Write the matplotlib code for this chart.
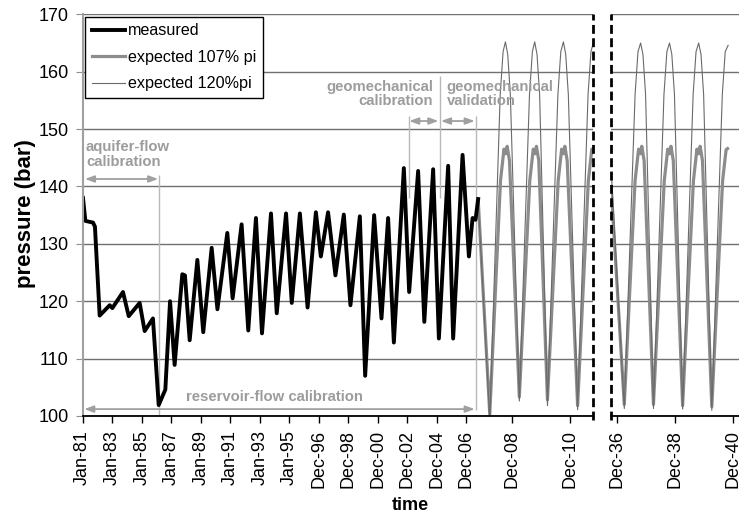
import numpy as np
import matplotlib.pyplot as plt

plt.rcParams['font.family'] = ['Liberation Sans', 'DejaVu Sans']

# measured reservoir pressure (decimal year, bar)
measured_t = [1981.02, 1981.18, 1981.70, 1981.83, 1982.15, 1982.83, 1983.01, 1983.73,
              1984.12, 1984.86, 1985.20, 1985.76, 1986.15, 1986.60, 1986.92, 1987.23,
              1987.75, 1987.93, 1988.25, 1988.77, 1989.17, 1989.74, 1990.13, 1990.80,
              1991.16, 1991.77, 1992.22, 1992.74, 1993.15, 1993.76, 1994.15, 1994.78,
              1995.16, 1995.69, 1996.19, 1996.73, 1997.06, 1997.55, 1998.05, 1998.62,
              1999.07, 1999.71, 2000.07, 2000.68, 2001.18, 2001.63, 2002.02, 2002.70,
              2003.06, 2003.67, 2004.09, 2004.69, 2005.08, 2005.71, 2006.05, 2006.69,
              2007.12, 2007.37, 2007.57, 2007.75]
measured_p = [138.0, 134.0, 133.7, 133.0, 117.5, 119.3, 118.8, 121.6,
              117.4, 119.7, 114.8, 117.0, 101.9, 104.6, 120.0, 108.9,
              124.7, 124.5, 113.2, 127.2, 114.6, 129.3, 118.6, 131.9,
              120.5, 133.4, 114.9, 134.5, 114.4, 135.3, 117.9, 135.3,
              119.7, 135.3, 118.9, 135.5, 127.8, 135.5, 124.5, 135.1,
              119.3, 134.8, 107.0, 135.0, 117.0, 134.5, 112.8, 143.2,
              121.6, 142.7, 116.4, 143.0, 113.5, 143.6, 113.5, 145.5,
              127.8, 134.5, 134.2, 137.8]

# expected pressure, filling up to 107% of initial pressure
exp107_t_a = [2007.75, 2008.15, 2008.52, 2008.64, 2008.70, 2008.75, 2008.83,
              2009.17, 2009.53, 2009.65, 2009.71, 2009.76, 2009.84,
              2010.14, 2010.51, 2010.63, 2010.69, 2010.74, 2010.82,
              2011.18, 2011.55, 2011.67, 2011.73, 2011.78, 2011.86]
exp107_p_a = [137.8, 100.3, 141.0, 146.5, 145.7, 147.0, 144.5,
              103.3, 141.0, 146.5, 145.7, 147.0, 144.5,
              102.8, 141.0, 146.5, 145.7, 147.0, 144.5,
              101.8, 141.0, 146.5, 145.7, 147.0, 144.5]
exp107_t_b = [2036.74, 2037.18, 2037.55, 2037.67, 2037.73, 2037.78, 2037.86,
              2038.18, 2038.55, 2038.67, 2038.73, 2038.78, 2038.86,
              2039.18, 2039.55, 2039.67, 2039.73, 2039.78, 2039.86,
              2040.18, 2040.55, 2040.67, 2040.72]
exp107_p_b = [139.0, 102.0, 141.0, 146.5, 145.7, 147.0, 144.5,
              102.0, 141.0, 146.5, 145.7, 147.0, 144.5,
              101.8, 141.0, 146.5, 145.7, 147.0, 144.5,
              101.6, 141.0, 146.4, 146.6]

# expected pressure, filling up to 120% of initial pressure
exp120_t_a = [2007.75, 2008.15, 2008.51, 2008.61, 2008.69, 2008.77, 2008.86,
              2009.17, 2009.52, 2009.62, 2009.70, 2009.78, 2009.87,
              2010.14, 2010.50, 2010.60, 2010.69, 2010.77, 2010.86,
              2011.18, 2011.54, 2011.64, 2011.72, 2011.80, 2011.89]
exp120_p_a = [137.8, 99.2, 156.0, 163.5, 165.2, 163.0, 156.0,
              102.6, 156.0, 163.5, 165.2, 163.0, 156.0,
              101.8, 156.0, 163.5, 165.2, 163.0, 156.0,
              101.1, 156.0, 163.5, 165.0, 163.0, 156.0]
exp120_t_b = [2036.74, 2037.18, 2037.55, 2037.65, 2037.74, 2037.82, 2037.91,
              2038.18, 2038.54, 2038.64, 2038.73, 2038.81, 2038.90,
              2039.18, 2039.54, 2039.64, 2039.73, 2039.81, 2039.90,
              2040.18, 2040.54, 2040.64, 2040.74]
exp120_p_b = [142.0, 101.3, 156.0, 163.5, 165.0, 163.0, 156.0,
              101.3, 156.0, 163.5, 165.0, 163.0, 156.0,
              101.2, 156.0, 163.5, 165.0, 163.0, 156.0,
              101.0, 156.0, 163.5, 164.6]

left_ticks = [1981.0, 1983.0, 1985.0, 1987.0, 1989.0, 1991.0, 1993.0, 1995.0,
              1996.92, 1998.92, 2000.92, 2002.92, 2004.92, 2006.92, 2008.92, 2010.92]
left_labels = ['Jan-81', 'Jan-83', 'Jan-85', 'Jan-87', 'Jan-89', 'Jan-91', 'Jan-93', 'Jan-95',
               'Dec-96', 'Dec-98', 'Dec-00', 'Dec-02', 'Dec-04', 'Dec-06', 'Dec-08', 'Dec-10']
right_ticks = [2036.92, 2038.92, 2040.92]
right_labels = ['Dec-36', 'Dec-38', 'Dec-40']

# category axis: history is squeezed, forecast gets twice the room per year
seg_year = [1900.0, 1981.0, 1995.0, 1996.92, 2007.75, 2011.72, 2100.0]
seg_pos = [-81.0, 0.0, 14.0, 16.0, 26.8, 34.6, 208.04]


def to_pos(t):
    return np.interp(t, seg_year, seg_pos)


def to_year(x):
    return np.interp(x, seg_pos, seg_year)


fig = plt.figure(figsize=(7.39, 5.22), dpi=100)
ax1 = fig.add_axes([0.1119, 0.2031, 0.6909, 0.7695])
ax2 = fig.add_axes([0.8272, 0.2031, 0.1735, 0.7695])

ax1.set_xscale('function', functions=(to_pos, to_year))
ax1.set_xlim(1981.0, 2011.72)
ax2.set_xlim(2036.735, 2041.13)

for ax in (ax1, ax2):
    ax.set_ylim(100, 170)
    ax.set_yticks(range(100, 171, 10))
    ax.yaxis.grid(True, color='#707070', lw=1.0)
    ax.set_axisbelow(True)
    ax.spines['top'].set_visible(False)
    ax.spines['bottom'].set_color('black')
    ax.spines['bottom'].set_linewidth(1.3)
    ax.tick_params(axis='x', length=5, width=1, direction='out', labelsize=13,
                   labelrotation=90, pad=5)

ax1.spines['left'].set_color('#a0a0a0')
ax1.spines['left'].set_linewidth(1.5)
ax1.spines['right'].set_visible(False)
ax1.tick_params(axis='y', length=5, color='#909090', labelsize=13, pad=5)

ax2.spines['right'].set_visible(False)
ax2.spines['left'].set_visible(False)
ax2.tick_params(axis='y', left=False, labelleft=False)

# dashed break lines between the two time windows
ax1.axvline(2011.72, ymin=-0.01, ymax=1, color='black', lw=2.0,
            linestyle=(0, (3.2, 1.6)), clip_on=False, zorder=6)
ax2.axvline(2036.735, ymin=-0.01, ymax=1, color='black', lw=2.0,
            linestyle=(0, (3.2, 1.6)), clip_on=False, zorder=6)

ax1.set_xticks(left_ticks)
ax1.set_xticklabels(left_labels)
ax1.xaxis.set_minor_locator(plt.NullLocator())
ax2.set_xticks(right_ticks)
ax2.set_xticklabels(right_labels)

# calibration / validation periods
note = dict(color='#9c9c9c', fontsize=10.7, fontweight='bold', linespacing=1.05)
arrow_kw = dict(arrowstyle='<|-|>,head_length=0.55,head_width=0.2', color='#a0a0a0',
                lw=1.3, shrinkA=0, shrinkB=0)
ax1.vlines([1986.19], 100, 142.0, colors='#b8b8b8', lw=1)
ax1.vlines([2003.06], 138, 152.3, colors='#b8b8b8', lw=1)
ax1.vlines([2005.15], 138, 159.3, colors='#b8b8b8', lw=1)
ax1.vlines([2007.57], 101, 152.3, colors='#b8b8b8', lw=1)
ax1.annotate('', xy=(1981.15, 141.3), xytext=(1986.12, 141.3), arrowprops=arrow_kw)
ax1.annotate('', xy=(1981.1, 101.2), xytext=(2007.52, 101.2), arrowprops=arrow_kw)
ax1.annotate('', xy=(2003.06, 151.4), xytext=(2005.05, 151.4), arrowprops=arrow_kw)
ax1.annotate('', xy=(2005.22, 151.4), xytext=(2007.52, 151.4), arrowprops=arrow_kw)
ax1.text(1981.22, 145.6, 'aquifer-flow\ncalibration', ha='left', va='center', **note)
ax1.text(1993.96, 103.3, 'reservoir-flow calibration', ha='center', va='center', **note)
ax1.text(2004.69, 156.1, 'geomechanical\ncalibration', ha='right', va='center',
         multialignment='right', **note)
ax1.text(2005.6, 156.1, 'geomechanical\nvalidation', ha='left', va='center', **note)

l107, = ax1.plot(exp107_t_a, exp107_p_a, color='#8c8c8c', lw=2.3, solid_joinstyle='round')
l120, = ax1.plot(exp120_t_a, exp120_p_a, color='#6a6a6a', lw=0.8, solid_joinstyle='round')
lmeas, = ax1.plot(measured_t, measured_p, color='black', lw=2.8, solid_joinstyle='round')
ax2.plot(exp107_t_b, exp107_p_b, color='#8c8c8c', lw=2.3, solid_joinstyle='round')
ax2.plot(exp120_t_b, exp120_p_b, color='#6a6a6a', lw=0.8, solid_joinstyle='round')

leg = ax1.legend([lmeas, l107, l120], ['measured', 'expected 107% pi', 'expected 120%pi'],
                 loc='upper left', fontsize=11.6, fancybox=False, framealpha=1,
                 edgecolor='black', borderaxespad=0.15, handlelength=2.1,
                 handletextpad=0.15, labelspacing=0.72, borderpad=0.4)
leg.get_frame().set_linewidth(1.0)
leg.set_zorder(5)

fig.text(26 / 739, 1 - 214 / 522, 'pressure (bar)', rotation=90, ha='center', va='center',
         fontsize=16, fontweight='bold')
fig.text(410 / 739, 1 - 505 / 522, 'time', ha='center', va='center',
         fontsize=13, fontweight='bold')

fig.savefig('out.png', dpi=100)
